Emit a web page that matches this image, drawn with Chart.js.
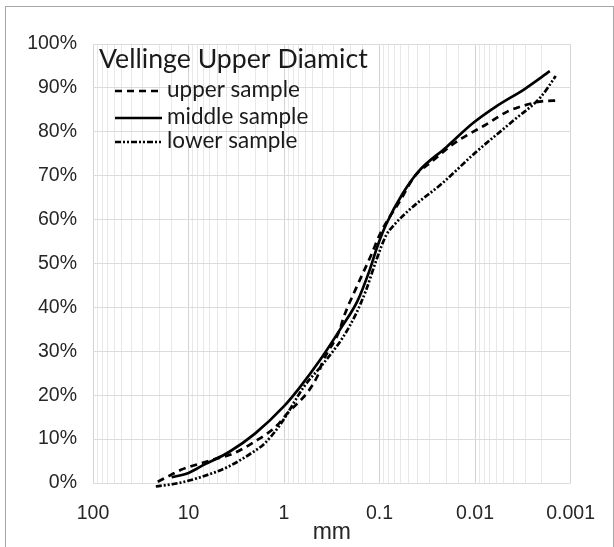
<!DOCTYPE html>
<html lang="en">
<head>
<meta charset="UTF-8">
<title>Vellinge Upper Diamict</title>
<script src="https://cdn.jsdelivr.net/npm/chart.js@4.4.0/dist/chart.umd.min.js"></script>
<style>
    body {
        margin: 0;
        background: #ffffff;
    }
    .frame {
        position: absolute;
        left: 5px;
        top: 6px;
        width: 607px;
        height: 580px;
        border: 1px solid #a6a6a6;
    }
    .chart-container {
        position: absolute;
        left: 0;
        top: 0;
        width: 614px;
        height: 547px;
    }
</style>
</head>
<body>
<div class="frame"></div>
<div class="chart-container">
    <canvas id="gradationChart"></canvas>
</div>
<script>
// Grain size (mm) and cumulative % passing for each sample
const upperSize    = [21, 15.4, 12, 8.5, 5, 3.5, 2.0, 1.17, 1.0, 0.45, 0.4, 0.26, 0.24, 0.175, 0.122, 0.1, 0.079, 0.065, 0.055, 0.047, 0.039, 0.03, 0.018, 0.0138, 0.0079, 0.0046, 0.0035, 0.0019, 0.0014];
const upperPassing = [0.3, 1.8, 3.0, 4.1, 5.6, 6.6, 9.5, 13.2, 15.0, 24.2, 27.3, 35.0, 37.5, 44.5, 52.0, 56.5, 60.5, 63.3, 66.0, 68.6, 70.9, 72.8, 76.8, 78.5, 81.5, 84.6, 85.6, 87.0, 87.1];

const middleSize    = [15, 10, 6.7, 3.8, 2.0, 1.0, 0.7, 0.42, 0.25, 0.17, 0.127, 0.105, 0.085, 0.057, 0.039, 0.02, 0.0105, 0.006, 0.003, 0.00165];
const middlePassing = [1.3, 2.3, 4.3, 7.0, 11.3, 17.5, 21.5, 28.0, 35.5, 41.5, 48.5, 54.0, 59.0, 66.0, 71.0, 76.5, 82.0, 85.8, 89.8, 93.8];

const lowerSize    = [22, 12.6, 7.3, 3.85, 2.2, 1.6, 1.08, 0.62, 0.385, 0.24, 0.175, 0.138, 0.108, 0.085, 0.073, 0.049, 0.022, 0.01, 0.0039, 0.00204, 0.00143];
const lowerPassing = [-0.8, 0.0, 1.4, 3.7, 6.8, 9.0, 13.5, 21.9, 27.3, 33.3, 38.7, 44.0, 50.8, 56.5, 58.4, 62.2, 68.3, 75.2, 82.7, 88.0, 92.7];

const sampleNames = ['upper sample', 'middle sample', 'lower sample'];
const xTickLabels = ['100', '10', '1', '0.1', '0.01', '0.001'];
const chartTitle = 'Vellinge Upper Diamict';

function toPoints(sizes, values) {
    return sizes.map((s, i) => ({ x: s, y: values[i] }));
}

function isDecade(v) {
    const l = Math.log10(v);
    return Math.abs(l - Math.round(l)) < 1e-9;
}

const lineStyles = [
    { dash: [7, 5], width: 2.7 },
    { dash: [], width: 2.7 },
    { dash: [6, 2, 2, 2, 2, 2], width: 2.7 }
];

// Legend with title drawn inside the plot area
const insideLegend = {
    id: 'insideLegend',
    afterDatasetsDraw(chart) {
        const ctx = chart.ctx;
        const area = chart.chartArea;
        ctx.save();
        ctx.fillStyle = '#1a1a1a';
        ctx.textBaseline = 'alphabetic';
        ctx.font = '26.7px Lato';
        ctx.fillText(chartTitle, area.left + 6, area.top + 24);

        ctx.font = '22.5px Lato';
        const rowY = [47, 74, 98];
        chart.data.datasets.forEach((ds, i) => {
            const y = area.top + rowY[i];
            ctx.beginPath();
            ctx.strokeStyle = '#000';
            ctx.lineWidth = ds.borderWidth;
            ctx.setLineDash(ds.borderDash || []);
            ctx.moveTo(area.left + 22, y);
            ctx.lineTo(area.left + 69, y);
            ctx.stroke();
            ctx.setLineDash([]);
            ctx.fillText(ds.label, area.left + 74, y + 6);
        });
        ctx.restore();
    }
};

function renderChart() {
    const ctx = document.getElementById('gradationChart').getContext('2d');
    const series = [
        toPoints(upperSize, upperPassing),
        toPoints(middleSize, middlePassing),
        toPoints(lowerSize, lowerPassing)
    ];

    new Chart(ctx, {
        type: 'line',
        data: {
            datasets: series.map((pts, i) => ({
                label: sampleNames[i],
                data: pts,
                borderColor: '#000000',
                backgroundColor: '#000000',
                borderWidth: lineStyles[i].width,
                borderDash: lineStyles[i].dash,
                pointRadius: 0,
                cubicInterpolationMode: 'monotone',
                fill: false,
                clip: false
            }))
        },
        options: {
            responsive: true,
            maintainAspectRatio: false,
            animation: false,
            layout: {
                padding: { left: 0, right: 37, top: 44, bottom: 0 }
            },
            plugins: {
                legend: { display: false },
                tooltip: { enabled: false }
            },
            scales: {
                x: {
                    type: 'logarithmic',
                    reverse: true,
                    min: 0.001,
                    max: 100,
                    afterFit(scale) { scale.height = 64; },
                    grid: {
                        drawTicks: false,
                        color: c => (c.tick && isDecade(c.tick.value)) ? '#d4d4d4' : '#e8e8e8',
                        lineWidth: 1
                    },
                    border: { display: false },
                    ticks: {
                        autoSkip: false,
                        maxRotation: 0,
                        padding: 19,
                        color: '#262626',
                        font: { family: 'Liberation Sans', size: 19.5 },
                        callback: function (value) {
                            if (!isDecade(value)) return '';
                            const idx = Math.round(2 - Math.log10(value));
                            return xTickLabels[idx];
                        }
                    },
                    title: {
                        display: true,
                        text: 'mm',
                        color: '#262626',
                        font: { family: 'Liberation Sans', size: 23 },
                        padding: { top: 0, bottom: 1 }
                    }
                },
                y: {
                    min: 0,
                    max: 100,
                    afterFit(scale) { scale.width = 93; },
                    grid: {
                        drawTicks: false,
                        color: '#dcdcdc',
                        lineWidth: 1
                    },
                    border: { display: false },
                    ticks: {
                        stepSize: 10,
                        padding: 16,
                        color: '#262626',
                        font: { family: 'Liberation Sans', size: 19.5 },
                        callback: value => value + '%'
                    }
                }
            }
        },
        plugins: [insideLegend]
    });
}

document.addEventListener('DOMContentLoaded', renderChart);
</script>
</body>
</html>
